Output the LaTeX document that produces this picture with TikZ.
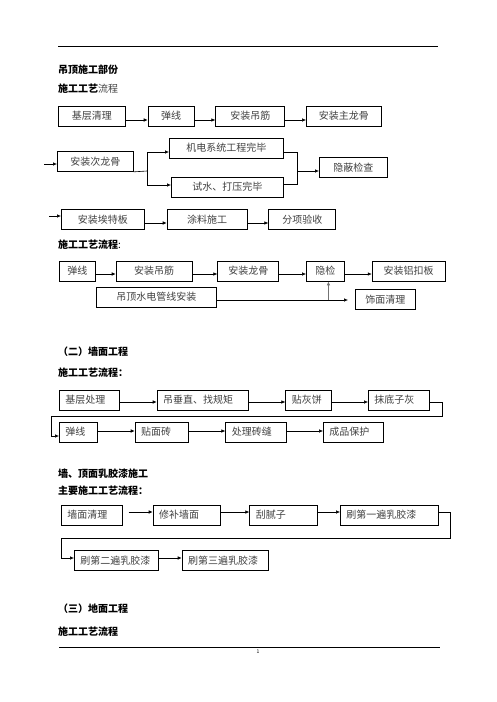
\documentclass[tikz,border=0pt]{standalone}
\usepackage{fontspec}
\setmainfont{Noto Sans CJK SC}
\usepackage{tikz}
\usetikzlibrary{arrows.meta,positioning}
\definecolor{boxtext}{HTML}{404040}

\begin{document}
\begin{tikzpicture}[
    x=1pt, y=-1pt,
    box/.style={
        draw,
        line width=0.7pt,
        minimum height=20pt,
        inner sep=0pt,
        font=\fontsize{10}{12}\selectfont,
        text=boxtext
    },
    lbox/.style={
        box,
        inner xsep=6pt,
        text width=#1,
        align=left
    },
    arrow/.style={
        -{Latex[length=4pt,width=3.5pt]},
        line width=0.6pt
    },
    link/.style={
        line width=0.6pt
    },
    head/.style={
        anchor=west,
        inner sep=0pt,
        font=\fontsize{10}{12}\selectfont\bfseries
    }
]
\useasboundingbox (0,0) rectangle (496,702);

% Page rules
\draw[line width=0.8pt] (58,46) -- (438,46);
\draw[line width=0.8pt] (59,647) -- (440,647);
\node[inner sep=0pt, font=\fontsize{5}{6}\selectfont] (pageno) at (258,652) {1};

% Headings
\node[head] (t1) at (58,70) {吊顶施工部份};
\node[head] (t2) at (58,89) {施工工艺{\mdseries\color{boxtext}流程}};
\node[head] (t3) at (58,245) {施工工艺流程{\mdseries :}};
\node[head] (t4) at (58,352) {（二）墙面工程};
\node[head] (t5) at (58,373) {施工工艺流程：};
\node[head] (t6) at (58,474) {墙、顶面乳胶漆施工};
\node[head] (t7) at (58,491) {主要施工工艺流程：};
\node[head] (t8) at (58,609) {（三）地面工程};
\node[head] (t9) at (58,632) {施工工艺流程};

% Ceiling: first row
\node[box, minimum width=67pt, anchor=west] (a1) at (58,116) {基层清理};
\node[box, minimum width=46pt, right=22pt of a1] (a2) {弹线};
\node[box, minimum width=69pt, right=21pt of a2] (a3) {安装吊筋};
\node[box, minimum width=75pt, right=21pt of a3] (a4) {安装主龙骨};

\draw[arrow] ([yshift=-4pt]a1.east) -- ([yshift=-4pt]a2.west);
\draw[arrow] ([yshift=-4pt]a2.east) -- ([yshift=-4pt]a3.west);
\draw[arrow] ([yshift=-4pt]a3.east) -- ([yshift=-4pt]a4.west);

% Ceiling: branch row
\node[box, minimum width=76pt, anchor=west] (b1) at (57,161.5) {安装次龙骨};
\node[box, minimum width=114pt, anchor=west] (b2) at (169,148) {机电系统工程完毕};
\node[box, minimum width=112pt, anchor=west] (b3) at (171,187) {试水、打压完毕};
\node[box, minimum width=68pt, anchor=west] (b4) at (319,167.5) {隐蔽检查};

\coordinate (bin) at (44,164);
\coordinate (fork) at (147,171);
\coordinate (join) at (297,171);

\draw[arrow] (bin) -- (bin -| b1.west);
\draw[link] (b1.south east) -- (fork);
\draw[arrow] (fork) |- ([yshift=-4pt]b2.west);
\draw[arrow] (fork) |- ([yshift=2pt]b3.west);
\draw[link] ([yshift=-4pt]b2.east) -| (join);
\draw[link] ([yshift=3pt]b3.east) -| (join);
\draw[arrow] (join) -- (join -| b4.west);

% Ceiling: last row
\node[box, minimum width=83pt, anchor=west] (c1) at (61,219.5) {安装埃特板};
\node[box, minimum width=80pt, right=22pt of c1] (c2) {涂料施工};
\node[box, minimum width=67pt, right=21pt of c2] (c3) {分项验收};

\coordinate (cin) at (49,216);
\draw[arrow] (cin) -- (cin -| c1.west);
\draw[arrow] ([yshift=-3.5pt]c1.east) -- ([yshift=-3.5pt]c2.west);
\draw[arrow] ([yshift=-3.5pt]c2.east) -- ([yshift=-3.5pt]c3.west);

% Aluminium ceiling
\node[box, minimum width=36pt, anchor=west] (d1) at (59,271) {弹线};
\node[box, minimum width=76pt, right=20pt of d1] (d2) {安装吊筋};
\node[box, minimum width=61pt, right=25pt of d2] (d3) {安装龙骨};
\node[box, minimum width=38pt, right=27pt of d3] (d4) {隐检};
\node[box, minimum width=73pt, right=27pt of d4] (d5) {安装铝扣板};

\draw[arrow] ([yshift=-3pt]d1.east) -- ([yshift=-3pt]d2.west);
\draw[arrow] ([yshift=-3pt]d2.east) -- ([yshift=-3pt]d3.west);
\draw[arrow] ([yshift=-3pt]d3.east) -- ([yshift=-3pt]d4.west);
\draw[arrow] ([yshift=-3pt]d4.east) -- ([yshift=-3pt]d5.west);

\node[box, minimum width=120pt, anchor=west] (e1) at (96,297) {吊顶水电管线安装};
\node[box, minimum width=60pt, anchor=west] (e2) at (355,299.5) {饰面清理};

\path ([yshift=-3pt]e1.east) coordinate (e1out);
\draw[arrow] (e1out) -- ([xshift=-7pt]e1out -| e2.west);
\draw[arrow, draw=black!55, fill=black!55, line width=1.2pt] ([xshift=3pt]e1out -| d4.south) -- ([xshift=3pt]d4.south);

% Wall tiles
\node[lbox=48pt, anchor=west] (f1) at (59,400) {基层处理};
\node[lbox=79pt, right=37pt of f1] (f2) {吊垂直、找规矩};
\node[lbox=34pt, right=37pt of f2] (f3) {贴灰饼};
\node[lbox=49pt, right=36pt of f3] (f4) {抹底子灰};

\draw[arrow] ([yshift=-2pt]f1.east) -- ([yshift=-2pt]f2.west);
\draw[arrow] ([yshift=-2pt]f2.east) -- ([yshift=-2pt]f3.west);
\draw[arrow] ([yshift=-2pt]f3.east) -- ([yshift=-2pt]f4.west);

\node[lbox=26pt, anchor=west] (g1) at (59,432) {弹线};
\node[lbox=41pt, right=37pt of g1] (g2) {贴面砖};
\node[lbox=49pt, right=37pt of g2] (g3) {处理砖缝};
\node[lbox=48pt, right=36pt of g3] (g4) {成品保护};

\coordinate (fr) at (442,416);
\coordinate (fl) at (51,416);
\draw[arrow] ([yshift=-2pt]f4.east) -| (fr) -- (fl) |- ([yshift=-4pt]g1.west);

\draw[arrow] ([yshift=1pt]g1.east) -- ([yshift=1pt]g2.west);
\draw[arrow] ([yshift=1pt]g2.east) -- ([yshift=1pt]g3.west);
\draw[arrow] ([yshift=1pt]g3.east) -- ([yshift=1pt]g4.west);

% Latex paint
\node[lbox=49pt, anchor=west] (h1) at (61,515) {墙面清理};
\node[lbox=55pt, right=30pt of h1] (h2) {修补墙面};
\node[lbox=56pt, right=29pt of h2] (h3) {刮腻子};
\node[lbox=86pt, right=22pt of h3] (h4) {刷第一遍乳胶漆};

\draw[arrow] ([xshift=6pt,yshift=3pt]h1.east) -- ([yshift=3pt]h2.west);
\draw[arrow] ([yshift=3pt]h2.east) -- ([yshift=3pt]h3.west);
\draw[arrow] ([yshift=3pt]h3.east) -- ([yshift=3pt]h4.west);

\node[lbox=72pt, anchor=west] (i1) at (74,560.5) {刷第二遍乳胶漆};
\node[lbox=74pt, right=23pt of i1] (i2) {刷第三遍乳胶漆};

\coordinate (hr) at (450,538);
\coordinate (hl) at (61,538);
\draw[arrow] ([yshift=3pt]h4.east) -| (hr) -- (hl) |- ([yshift=2.5pt]i1.west);
\draw[arrow] ([yshift=2.5pt]i1.east) -- ([yshift=2.5pt]i2.west);

\end{tikzpicture}
\end{document}
